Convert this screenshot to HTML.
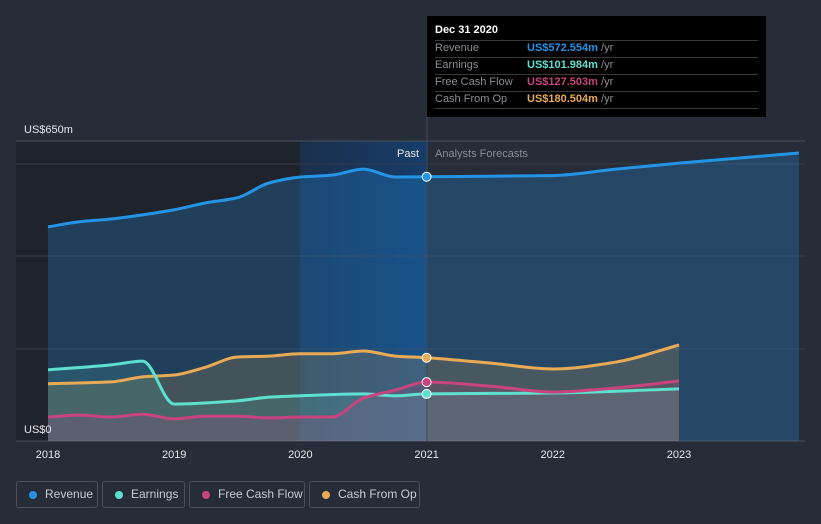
<!DOCTYPE html>
<html><head><meta charset="utf-8"><style>
body{margin:0;background:#262c38;font-family:"Liberation Sans",sans-serif;}
#wrap{position:relative;width:821px;height:524px;overflow:hidden;background:#262c38;}
.leg{position:absolute;top:481px;border:1px solid #4a505c;border-radius:3px;color:#c9ccd2;font-size:12px;line-height:25px;box-sizing:border-box;height:27px;}
.leg span.d{position:absolute;left:12px;top:9px;width:8px;height:8px;border-radius:50%;}
.leg span.t{position:absolute;left:28px;}
.sep{position:absolute;left:8px;right:8px;border-top:1px solid #3a3a3a}
</style></head><body>
<div id="wrap">
<svg id="svg" width="821" height="524" style="position:absolute;left:0;top:0"></svg>
<div class="leg" style="left:16px;width:82px"><span class="d" style="background:#2394e6"></span><span class="t">Revenue</span></div>
<div class="leg" style="left:102px;width:83px"><span class="d" style="background:#5ee0cf"></span><span class="t">Earnings</span></div>
<div class="leg" style="left:189px;width:116px"><span class="d" style="background:#c9437e"></span><span class="t">Free Cash Flow</span></div>
<div class="leg" style="left:309px;width:111px"><span class="d" style="background:#e8aa55"></span><span class="t">Cash From Op</span></div>
<div style="position:absolute;left:427px;top:16px;width:339px;height:101px;background:#000;font-size:11px;">
<div style="position:absolute;left:8px;top:8px;color:#fff;font-weight:bold;">Dec 31 2020</div>
<div class="sep" style="top:24px"></div>
<div class="sep" style="top:41px"></div>
<div class="sep" style="top:58px"></div>
<div class="sep" style="top:75px"></div>
<div class="sep" style="top:92px"></div>
<div style="position:absolute;left:8px;top:24px;color:#8a8d93;line-height:17px">Revenue<br>Earnings<br>Free Cash Flow<br>Cash From Op</div>
<div style="position:absolute;left:100px;top:24px;line-height:17px;font-weight:bold"><span style="color:#2394e6">US$572.554m</span> <span style="color:#8a8d93;font-weight:normal">/yr</span><br><span style="color:#5ee0cf">US$101.984m</span> <span style="color:#8a8d93;font-weight:normal">/yr</span><br><span style="color:#c9437e">US$127.503m</span> <span style="color:#8a8d93;font-weight:normal">/yr</span><br><span style="color:#e8aa55">US$180.504m</span> <span style="color:#8a8d93;font-weight:normal">/yr</span></div>
</div>
</div>
<script>
const yearTicks=[2018,2019,2020,2021,2022,2023];
const revYears=[2018,2018.25,2018.5,2018.75,2019,2019.25,2019.5,2019.75,2020,2020.25,2020.5,2020.75,2021,2022,2022.5,2023,2023.95];
const revVals=[464,475,481,490,501,516,527,559,572,576,589,572,572.5,575,589,602,624];
const earnYears=[2018,2018.5,2018.75,2019,2019.5,2019.75,2020,2020.5,2020.75,2021,2022,2023];
const earnVals=[154,165,173,80,87,95,98,102,98,102,104,113];
const fcfYears=[2018,2018.25,2018.5,2018.75,2019,2019.25,2019.5,2019.75,2020,2020.25,2020.5,2020.75,2021,2021.5,2022,2022.5,2023];
const fcfVals=[52,56,52,58,48,54,54,50,52,52,93,110,127.5,119,106,115,130];
const cfoYears=[2018,2018.5,2018.75,2019,2019.25,2019.5,2019.75,2020,2020.25,2020.5,2020.75,2021,2021.5,2022,2022.5,2023];
const cfoVals=[124,128,139,143,160,182,184,189,189,195,184,180.5,169,156,171,208];
const NS='http://www.w3.org/2000/svg';
const svg=document.getElementById('svg');
const X=y=>48+(y-2018)*126.2;
const Y=v=>441-v*(300/650);
function el(t,a){const e=document.createElementNS(NS,t);for(const k in a)e.setAttribute(k,a[k]);svg.appendChild(e);return e;}
const defs=document.createElementNS(NS,'defs');svg.appendChild(defs);
defs.innerHTML='<linearGradient id="hl" x1="0" x2="1"><stop offset="0" stop-color="#1a2f4c"/><stop offset="1" stop-color="#163d6a"/></linearGradient>';
let r=el('rect',{x:16,y:141,width:284,height:300,fill:'#1f232c'});

r=el('rect',{x:300,y:141,width:127,height:300,fill:'url(#hl)'});

[141,164,256,349,441].forEach((gy,i)=>{const l=el('line',{x1:16,x2:805,y1:gy,y2:gy,stroke:i==0||i==4?'#4a505c':'#363c48','stroke-width':1});
});
function path(xs,vs){const p=xs.map((x,i)=>[X(x),Y(vs[i])]);const n=p.length;
const dx=[],s=[];for(let i=0;i<n-1;i++){dx[i]=p[i+1][0]-p[i][0];s[i]=(p[i+1][1]-p[i][1])/dx[i];}
const m=[s[0]];for(let i=1;i<n-1;i++){m[i]=(s[i-1]*s[i]<=0)?0:2/(1/s[i-1]+1/s[i]);}m[n-1]=s[n-2];
let d='M'+p[0][0]+','+p[0][1];
for(let i=0;i<n-1;i++){const h=dx[i]/3;d+=' C'+(p[i][0]+h)+','+(p[i][1]+m[i]*h)+' '+(p[i+1][0]-h)+','+(p[i+1][1]-m[i+1]*h)+' '+p[i+1][0]+','+p[i+1][1];}
return [d,p];}
const series=[['revenue',revYears,revVals,'#2394e6',0.25],['cash-from-op',cfoYears,cfoVals,'#e8aa55',0.18],['earnings',earnYears,earnVals,'#5ee0cf',0.15],['free-cash-flow',fcfYears,fcfVals,'#c9437e',0.15]];
series.forEach(s=>{const [d,p]=path(s[1],s[2]);
const a=el('path',{d:d+' L'+p[p.length-1][0]+',441 L'+p[0][0]+',441 Z',fill:s[3],'fill-opacity':s[4]});
});
series.forEach(s=>{const [d]=path(s[1],s[2]);
const l=el('path',{d:d,fill:'none',stroke:s[3],'stroke-width':3});
});
const vl=el('line',{x1:427,x2:427,y1:117,y2:441,stroke:'#3a4a60','stroke-width':1});

series.forEach(s=>{const i=s[1].indexOf(2021);const c=el('circle',{cx:X(2021),cy:Y(s[2][i]),r:4.5,fill:s[3],stroke:'#fff','stroke-width':1});
});
function txt(x,y,s,fill,size,anchor,name){const t=el('text',{x:x,y:y,fill:fill,'font-size':size,'text-anchor':anchor||'start','font-family':'Liberation Sans, sans-serif'});t.textContent=s;
return t;}
txt(24,133,'US$650m','#e6e8eb',11,'start','y-axis-max-label');
txt(24,433,'US$0','#e6e8eb',11,'start','y-axis-min-label');
txt(419,157,'Past','#e6e8eb',11,'end','past-label');
txt(435,157,'Analysts Forecasts','#8a8d93',11,'start','forecast-label');
yearTicks.forEach(y=>txt(X(y),458,String(y),'#e6e8eb',11,'middle','x-tick-'+y));
</script>
</body></html>
